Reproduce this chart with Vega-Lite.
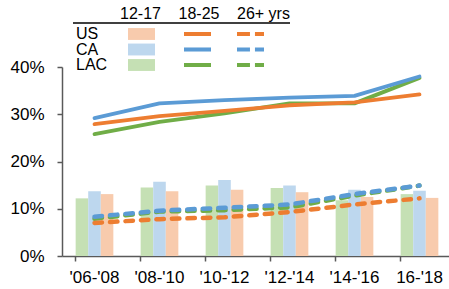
{
  "$schema": "https://vega.github.io/schema/vega-lite/v6.json",
  "width": 390,
  "height": 189,
  "autosize": "none",
  "padding": {"left": 62, "top": 67, "right": 0, "bottom": 33},
  "config": {"view": {"stroke": null}, "font": "Liberation Sans"},
  "datasets": {
    "main": [
      {"period": "'06-'08", "age": "12-17", "region": "LAC", "value": 0.122},
      {"period": "'06-'08", "age": "12-17", "region": "CA", "value": 0.137},
      {"period": "'06-'08", "age": "12-17", "region": "US", "value": 0.131},
      {"period": "'08-'10", "age": "12-17", "region": "LAC", "value": 0.145},
      {"period": "'08-'10", "age": "12-17", "region": "CA", "value": 0.157},
      {"period": "'08-'10", "age": "12-17", "region": "US", "value": 0.137},
      {"period": "'10-'12", "age": "12-17", "region": "LAC", "value": 0.149},
      {"period": "'10-'12", "age": "12-17", "region": "CA", "value": 0.161},
      {"period": "'10-'12", "age": "12-17", "region": "US", "value": 0.140},
      {"period": "'12-'14", "age": "12-17", "region": "LAC", "value": 0.144},
      {"period": "'12-'14", "age": "12-17", "region": "CA", "value": 0.149},
      {"period": "'12-'14", "age": "12-17", "region": "US", "value": 0.135},
      {"period": "'14-'16", "age": "12-17", "region": "LAC", "value": 0.118},
      {"period": "'14-'16", "age": "12-17", "region": "CA", "value": 0.140},
      {"period": "'14-'16", "age": "12-17", "region": "US", "value": 0.125},
      {"period": "16-'18", "age": "12-17", "region": "LAC", "value": 0.131},
      {"period": "16-'18", "age": "12-17", "region": "CA", "value": 0.138},
      {"period": "16-'18", "age": "12-17", "region": "US", "value": 0.123},

      {"period": "'06-'08", "age": "18-25", "region": "LAC", "value": 0.258},
      {"period": "'08-'10", "age": "18-25", "region": "LAC", "value": 0.284},
      {"period": "'10-'12", "age": "18-25", "region": "LAC", "value": 0.302},
      {"period": "'12-'14", "age": "18-25", "region": "LAC", "value": 0.323},
      {"period": "'14-'16", "age": "18-25", "region": "LAC", "value": 0.323},
      {"period": "16-'18", "age": "18-25", "region": "LAC", "value": 0.377},
      {"period": "'06-'08", "age": "18-25", "region": "CA", "value": 0.292},
      {"period": "'08-'10", "age": "18-25", "region": "CA", "value": 0.323},
      {"period": "'10-'12", "age": "18-25", "region": "CA", "value": 0.330},
      {"period": "'12-'14", "age": "18-25", "region": "CA", "value": 0.335},
      {"period": "'14-'16", "age": "18-25", "region": "CA", "value": 0.339},
      {"period": "16-'18", "age": "18-25", "region": "CA", "value": 0.380},
      {"period": "'06-'08", "age": "18-25", "region": "US", "value": 0.279},
      {"period": "'08-'10", "age": "18-25", "region": "US", "value": 0.296},
      {"period": "'10-'12", "age": "18-25", "region": "US", "value": 0.307},
      {"period": "'12-'14", "age": "18-25", "region": "US", "value": 0.319},
      {"period": "'14-'16", "age": "18-25", "region": "US", "value": 0.325},
      {"period": "16-'18", "age": "18-25", "region": "US", "value": 0.342},

      {"period": "'06-'08", "age": "26+", "region": "LAC", "value": 0.079},
      {"period": "'08-'10", "age": "26+", "region": "LAC", "value": 0.094},
      {"period": "'10-'12", "age": "26+", "region": "LAC", "value": 0.097},
      {"period": "'12-'14", "age": "26+", "region": "LAC", "value": 0.103},
      {"period": "'14-'16", "age": "26+", "region": "LAC", "value": 0.128},
      {"period": "16-'18", "age": "26+", "region": "LAC", "value": 0.149},
      {"period": "'06-'08", "age": "26+", "region": "CA", "value": 0.083},
      {"period": "'08-'10", "age": "26+", "region": "CA", "value": 0.096},
      {"period": "'10-'12", "age": "26+", "region": "CA", "value": 0.102},
      {"period": "'12-'14", "age": "26+", "region": "CA", "value": 0.109},
      {"period": "'14-'16", "age": "26+", "region": "CA", "value": 0.131},
      {"period": "16-'18", "age": "26+", "region": "CA", "value": 0.149},
      {"period": "'06-'08", "age": "26+", "region": "US", "value": 0.070},
      {"period": "'08-'10", "age": "26+", "region": "US", "value": 0.078},
      {"period": "'10-'12", "age": "26+", "region": "US", "value": 0.082},
      {"period": "'12-'14", "age": "26+", "region": "US", "value": 0.093},
      {"period": "'14-'16", "age": "26+", "region": "US", "value": 0.109},
      {"period": "16-'18", "age": "26+", "region": "US", "value": 0.122}
    ],
    "leg": [{"region": "US"}, {"region": "CA"}, {"region": "LAC"}],
    "hdr": [{"age": "12-17"}, {"age": "18-25"}, {"age": "26+ yrs"}],
    "legline": [
      {"region": "US", "age": "18-25"}, {"region": "CA", "age": "18-25"}, {"region": "LAC", "age": "18-25"},
      {"region": "US", "age": "26+ yrs"}, {"region": "CA", "age": "26+ yrs"}, {"region": "LAC", "age": "26+ yrs"}
    ]
  },
  "layer": [
    {
      "data": {"name": "main"},
      "layer": [
        {
          "transform": [{"filter": "datum.age === '12-17'"}],
          "mark": {"type": "bar"},
          "encoding": {
            "x": {
              "field": "period", "type": "nominal", "sort": null,
              "scale": {"paddingInner": 0.42, "paddingOuter": 0.21},
              "axis": {
                "title": null, "labelAngle": 0, "labelFontSize": 17, "labelColor": "#000000",
                "labelPadding": 8, "bandPosition": 0, "tickSize": 5, "tickColor": "#595959", "tickWidth": 1.5,
                "domainColor": "#595959", "domainWidth": 1.5
              }
            },
            "xOffset": {"field": "region", "type": "nominal", "scale": {"domain": ["LAC", "CA", "US"]}},
            "y": {
              "field": "value", "type": "quantitative",
              "scale": {"domain": [0, 0.4]},
              "axis": {
                "title": null, "values": [0, 0.1, 0.2, 0.3, 0.4], "format": ".0%", "grid": false,
                "labelFontSize": 17, "labelColor": "#000000", "labelPadding": 13, "tickSize": 5,
                "tickColor": "#595959", "tickWidth": 1.5, "domainColor": "#595959", "domainWidth": 1.5
              }
            },
            "color": {
              "field": "region", "type": "nominal",
              "scale": {"domain": ["LAC", "CA", "US"], "range": ["#c5e0b4", "#bdd7ee", "#f8cbad"]},
              "legend": null
            }
          }
        },
        {
          "transform": [{"filter": "datum.age === '18-25'"}],
          "mark": {"type": "line", "strokeWidth": 3.8, "strokeCap": "round", "strokeJoin": "round"},
          "encoding": {
            "x": {"field": "period", "type": "nominal", "sort": null, "bandPosition": 0.5},
            "y": {"field": "value", "type": "quantitative"},
            "stroke": {
              "field": "region", "type": "nominal",
              "scale": {"domain": ["LAC", "CA", "US"], "range": ["#70ad47", "#5b9bd5", "#ed7d31"]},
              "legend": null
            }
          }
        },
        {
          "transform": [{"filter": "datum.age === '26+'"}],
          "mark": {"type": "line", "strokeWidth": 4.5, "strokeCap": "round", "strokeDash": [7.5, 8]},
          "encoding": {
            "x": {"field": "period", "type": "nominal", "sort": null, "bandPosition": 0.5},
            "y": {"field": "value", "type": "quantitative"},
            "stroke": {"field": "region", "type": "nominal", "legend": null}
          }
        }
      ]
    },
    {
      "data": {"name": "leg"},
      "mark": {"type": "text", "align": "left", "baseline": "middle", "fontSize": 16, "color": "#000000"},
      "encoding": {
        "x": {"datum": 0, "type": "quantitative", "scale": {"domain": [0, 1], "range": [14, 228]}, "axis": null},
        "y": {"field": "region", "type": "nominal", "scale": {"type": "point", "padding": 0, "domain": ["US", "CA", "LAC"], "range": [-33, -2]}, "axis": null},
        "text": {"field": "region"}
      }
    },
    {
      "data": {"name": "leg"},
      "mark": {"type": "point", "shape": "M-1,-0.44L1,-0.44L1,0.44L-1,0.44Z", "size": 729, "filled": true, "opacity": 1},
      "encoding": {
        "x": {"datum": 0, "type": "quantitative", "scale": {"domain": [0, 1], "range": [79.5, 228]}, "axis": null},
        "y": {"field": "region", "type": "nominal", "scale": {"type": "point", "padding": 0, "domain": ["US", "CA", "LAC"], "range": [-33, -2]}, "axis": null},
        "color": {
          "field": "region", "type": "nominal",
          "scale": {"domain": ["LAC", "CA", "US"], "range": ["#c5e0b4", "#bdd7ee", "#f8cbad"]},
          "legend": null
        }
      }
    },
    {
      "data": {"name": "legline"},
      "mark": {"type": "point", "size": 729, "filled": true, "opacity": 1},
      "encoding": {
        "x": {"field": "age", "type": "nominal", "scale": {"type": "point", "padding": 0, "domain": ["18-25", "26+ yrs"], "range": [135.5, 188.5]}, "axis": null},
        "y": {"field": "region", "type": "nominal", "scale": {"type": "point", "padding": 0, "domain": ["US", "CA", "LAC"], "range": [-33, -2]}, "axis": null},
        "color": {
          "field": "region", "type": "nominal",
          "scale": {"domain": ["LAC", "CA", "US"], "range": ["#70ad47", "#5b9bd5", "#ed7d31"]},
          "legend": null
        },
        "shape": {
          "field": "age", "type": "nominal",
          "scale": {"domain": ["18-25", "26+ yrs"], "range": ["M-1,-0.15L1,-0.15L1,0.15L-1,0.15Z", "M-1,-0.15L-0.04,-0.15L-0.04,0.15L-1,0.15ZM0.33,-0.15L1,-0.15L1,0.15L0.33,0.15Z"]},
          "legend": null
        }
      }
    },
    {
      "data": {"name": "hdr"},
      "mark": {"type": "text", "align": "left", "baseline": "middle", "fontSize": 16, "color": "#000000"},
      "encoding": {
        "x": {"field": "age", "type": "nominal", "scale": {"type": "point", "padding": 0, "domain": ["12-17", "18-25", "26+ yrs"], "range": [58, 175]}, "axis": null},
        "y": {"datum": 0, "type": "quantitative", "scale": {"domain": [0, 1], "range": [-53, 0]}, "axis": null},
        "text": {"field": "age"}
      }
    },
    {
      "data": {"values": [{}]},
      "mark": {"type": "rule", "color": "#000000", "strokeWidth": 1.5},
      "encoding": {
        "x": {"datum": 0, "type": "quantitative", "scale": {"domain": [0, 1], "range": [11, 228]}, "axis": null},
        "x2": {"datum": 1},
        "y": {"datum": 0, "type": "quantitative", "scale": {"domain": [0, 1], "range": [-44, 0]}, "axis": null}
      }
    }
  ],
  "resolve": {"scale": {"x": "independent", "y": "independent", "color": "independent", "shape": "independent", "stroke": "independent"}}
}
